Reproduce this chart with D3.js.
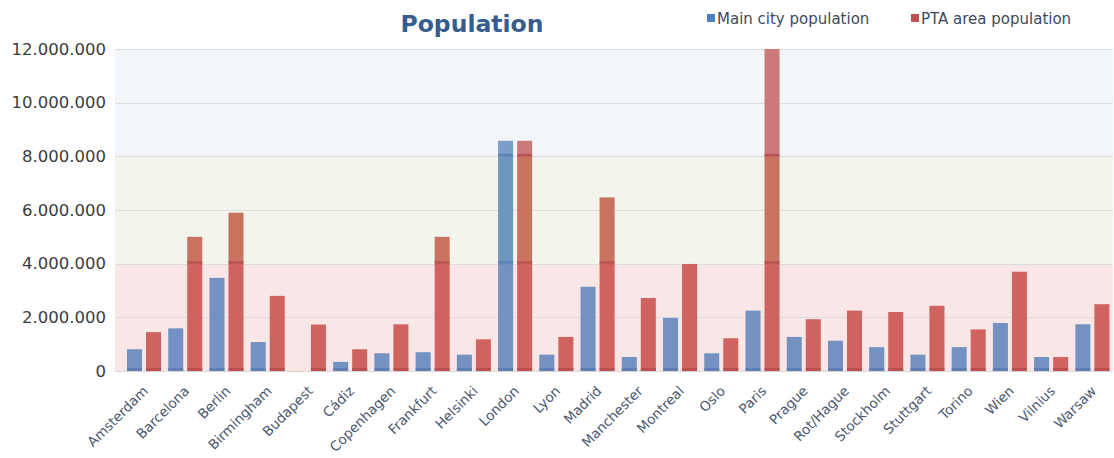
<!DOCTYPE html>
<html>
<head>
<meta charset="utf-8">
<script src="https://cdn.jsdelivr.net/npm/d3@7"></script>
<style>
  html, body { margin: 0; padding: 0; background: #fff; }
  svg { display: block; font-family: "DejaVu Sans", Verdana, sans-serif; }
</style>
</head>
<body>
<svg id="chart" width="1114" height="458"></svg>
<script>
// City names along the x axis
const cities = ["Amsterdam", "Barcelona", "Berlin", "Birmingham", "Budapest", "Cádiz",
  "Copenhagen", "Frankfurt", "Helsinki", "London", "Lyon", "Madrid", "Manchester",
  "Montreal", "Oslo", "Paris", "Prague", "Rot/Hague", "Stockholm", "Stuttgart",
  "Torino", "Wien", "Vilnius", "Warsaw"];

// Population of the main city
const mainCity = [810000, 1590000, 3470000, 1080000, 0, 340000,
  660000, 700000, 610000, 8580000, 610000, 3140000, 520000,
  1980000, 660000, 2250000, 1270000, 1130000, 890000, 610000,
  890000, 1790000, 520000, 1740000];

// Population of the PTA area
const ptaArea = [1450000, 5000000, 5900000, 2800000, 1730000, 810000,
  1740000, 5000000, 1180000, 8580000, 1270000, 6470000, 2720000,
  3990000, 1220000, 12000000, 1930000, 2250000, 2200000, 2430000,
  1550000, 3700000, 520000, 2490000];

const seriesNames = ["Main city population", "PTA area population"];
const yTicks = [0, 2000000, 4000000, 6000000, 8000000, 10000000, 12000000];
// Background bands [from, to]
const bandLimits = [[0, 4000000], [4000000, 8000000], [8000000, 12000000]];

const bandFill = ["#f9e7e7", "#f3f5ec", "#f2f5f9"];
// Bar colour per series, per background band
const barFill = [
  ["#7391c1", "#6f96bf", "#7a9dc9"],
  ["#d0635f", "#c8735f", "#cc797c"]
];
const stripeFill = ["#5a7bb0", "#b44a48"];

const svg = d3.select("#chart");
const plotLeft = 115, plotRight = 1113;

const y = d3.scaleLinear().domain([0, 12000000]).range([371, 49]);
const x = d3.scaleBand().domain(cities).range([123.4, 1113]).padding(0);
const xs = d3.scaleBand().domain([0, 1]).range([3.6, x.bandwidth() - 3.6])
  .paddingInner(0.21).paddingOuter(0);

// Background bands
svg.append("g").selectAll("rect").data(bandLimits).join("rect")
  .attr("x", plotLeft)
  .attr("width", plotRight - plotLeft)
  .attr("y", d => y(d[1]))
  .attr("height", d => y(d[0]) - y(d[1]))
  .attr("fill", (d, i) => bandFill[i]);

// Grid lines
svg.append("g").selectAll("line").data(yTicks).join("line")
  .attr("x1", plotLeft).attr("x2", plotRight)
  .attr("y1", d => Math.round(y(d)) + 0.5).attr("y2", d => Math.round(y(d)) + 0.5)
  .attr("stroke", d => d === 0 ? "#d8d8d8" : "#dcdcdc")
  .attr("stroke-width", 1);

// Bars, split into segments per background band
const rows = cities.map((c, i) => ({ city: c, values: [mainCity[i], ptaArea[i]] }));
const segs = [];
rows.forEach(r => {
  r.values.forEach((v, s) => {
    bandLimits.forEach((b, bi) => {
      const lo = b[0], hi = Math.min(b[1], v);
      if (hi > lo) segs.push({ city: r.city, s, bi, lo, hi });
    });
  });
});

const bars = svg.append("g");
bars.selectAll("rect.seg").data(segs).join("rect")
  .attr("class", "seg")
  .attr("x", d => x(d.city) + xs(d.s))
  .attr("width", xs.bandwidth())
  .attr("y", d => y(d.hi))
  .attr("height", d => y(d.lo) - y(d.hi))
  .attr("fill", d => barFill[d.s][d.bi]);

// Darker stripes where a bar crosses a band boundary (and at its base)
const stripes = segs.map(d => ({ city: d.city, s: d.s, at: d.lo }));
bars.selectAll("rect.stripe").data(stripes).join("rect")
  .attr("class", "stripe")
  .attr("x", d => x(d.city) + xs(d.s))
  .attr("width", xs.bandwidth())
  .attr("y", d => y(d.at) - (d.at === 0 ? 3 : 2.5))
  .attr("height", 3)
  .attr("fill", d => stripeFill[d.s])
  .attr("opacity", 0.75);

// Y axis labels
const fmt = v => d3.format(",")(v).replace(/,/g, ".");
const yAxis = svg.append("g").attr("transform", `translate(${plotLeft - 9},0)`)
  .call(d3.axisLeft(y).tickValues(yTicks).tickFormat(fmt).tickSize(0).tickPadding(0));
yAxis.select(".domain").remove();
yAxis.selectAll("text")
  .attr("font-family", "DejaVu Sans, Verdana, sans-serif")
  .attr("font-size", 16.5)
  .attr("fill", "#3c3c3c");

// X axis labels, rotated
const xAxis = svg.append("g").attr("transform", "translate(0,385)")
  .call(d3.axisBottom(x).tickSize(0).tickPadding(0));
xAxis.select(".domain").remove();
xAxis.selectAll("text")
  .attr("font-family", "DejaVu Sans, Verdana, sans-serif")
  .attr("font-size", 13.6)
  .attr("fill", "#4b5870")
  .attr("text-anchor", "end")
  .attr("dy", "0.71em")
  .attr("transform", "translate(-2,0) rotate(-45)");

// Title
svg.append("text")
  .attr("x", 472).attr("y", 32)
  .attr("text-anchor", "middle")
  .attr("font-size", 23.5)
  .attr("font-weight", "bold")
  .attr("fill", "#365d8d")
  .text("Population");

// Legend
const legendX = [707, 911];
const legendColors = ["#4f7fbd", "#c0504d"];
const legend = svg.append("g").selectAll("g").data(seriesNames).join("g")
  .attr("transform", (d, i) => `translate(${legendX[i]},0)`);
legend.append("rect")
  .attr("x", 0).attr("y", 14).attr("width", 8).attr("height", 8)
  .attr("fill", (d, i) => legendColors[i]);
legend.append("text")
  .attr("x", 10).attr("y", 24)
  .attr("font-size", 15)
  .attr("fill", "#404a5a")
  .text(d => d);
</script>
</body>
</html>
